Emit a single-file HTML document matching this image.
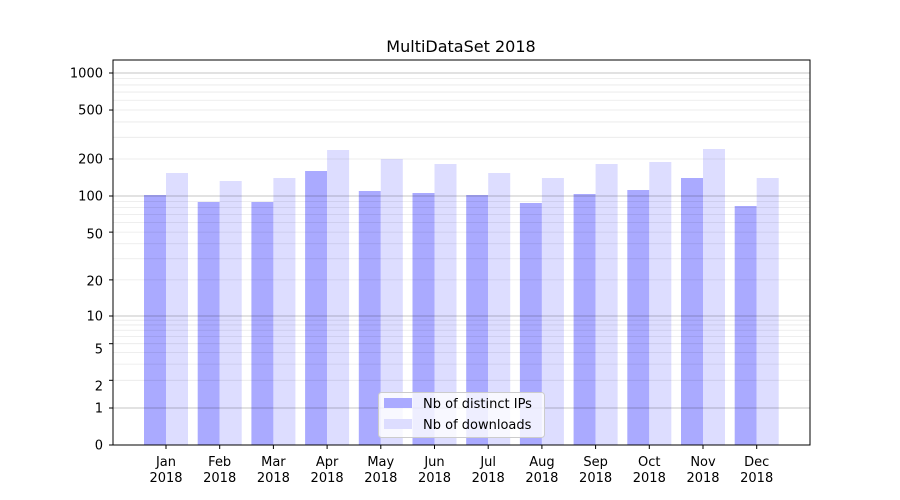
<!DOCTYPE html>
<html><head><meta charset="utf-8"><style>body{margin:0;background:#fff}svg{display:block;font-family:"DejaVu Sans","Liberation Sans",sans-serif}</style></head>
<body>
<svg id="s" width="900" height="500" xmlns="http://www.w3.org/2000/svg">
<rect width="900" height="500" fill="#fff"/>
<g id="bars"></g>
<g id="grid"></g>
<rect x="113" y="60" width="697" height="385" fill="none" stroke="#000" stroke-width="1"/>
<text x="461" y="52" font-size="16" text-anchor="middle">MultiDataSet 2018</text>
<g font-size="13" text-anchor="end">
<text x="103" y="449.5">0</text><text x="103" y="412.5">1</text><text x="103" y="390.5">2</text>
<text x="103" y="353.5">5</text><text x="103" y="320.5">10</text><text x="103" y="285.5">20</text>
<text x="103" y="238.5">50</text><text x="103" y="200.5">100</text><text x="103" y="163.5">200</text>
<text x="103" y="114.5">500</text><text x="103" y="77.5">1000</text>
</g>
<g font-size="13" text-anchor="middle" id="xl"></g>
<g>
<rect x="378.5" y="392.5" width="166" height="45" rx="3" fill="#fff" fill-opacity="0.8" stroke="#ccc"/>
<rect x="384" y="398" width="28" height="10" fill="#aaaaff"/>
<rect x="384" y="419" width="28" height="10" fill="#ddddff"/>
<text x="423" y="408" font-size="13">Nb of distinct IPs</text>
<text x="423" y="429" font-size="13">Nb of downloads</text>
</g>
</svg>
<script>
function Y(v){
 if(v<=1) return 445-37*v;
 var l=Math.log10(v);
 if(l<=1) return 408-92*l;
 if(l<=2) return 316-120*(l-1);
 return 196-123*(l-2);
}
var g=document.getElementById('grid'),h='';
[2,3,4,5,6,7,8,9,20,30,40,50,60,70,80,90,200,300,400,500,600,700,800,900].forEach(function(v){
 h+='<line x1="113" x2="810" y1="'+Y(v)+'" y2="'+Y(v)+'" stroke="#000" stroke-opacity="0.09" stroke-width="0.8"/>';});
[1,10,100,1000].forEach(function(v){
 h+='<line x1="113" x2="810" y1="'+Y(v)+'" y2="'+Y(v)+'" stroke="#000" stroke-opacity="0.3" stroke-width="0.8"/>';});
var ticks=[0,1,2,5,10,20,50,100,200,500,1000];
ticks.forEach(function(v){h+='<line x1="109" x2="113" y1="'+Y(v)+'" y2="'+Y(v)+'" stroke="#000"/>';});
g.innerHTML=h;
var blue=[195,202,202,171,191,193,195,203,194,190,178,206],lt=[173,181,178,150,159,164,173,178,164,162,149,178];
var m=['Jan','Feb','Mar','Apr','May','Jun','Jul','Aug','Sep','Oct','Nov','Dec'];
var b='',x='';
for(var i=0;i<12;i++){
 var c=166+i*53.7;
 b+='<rect x="'+(c-22)+'" y="'+blue[i]+'" width="22" height="'+(445-blue[i])+'" fill="#aaaaff"/>';
 b+='<rect x="'+c+'" y="'+lt[i]+'" width="22" height="'+(445-lt[i])+'" fill="#ddddff"/>';
 b+='<line x1="'+c+'" x2="'+c+'" y1="445" y2="449" stroke="#000"/>';
 x+='<text x="'+c+'" y="466">'+m[i]+'</text><text x="'+c+'" y="482">2018</text>';
}
document.getElementById('bars').innerHTML=b;
document.getElementById('xl').innerHTML=x;
</script>
</body></html>
